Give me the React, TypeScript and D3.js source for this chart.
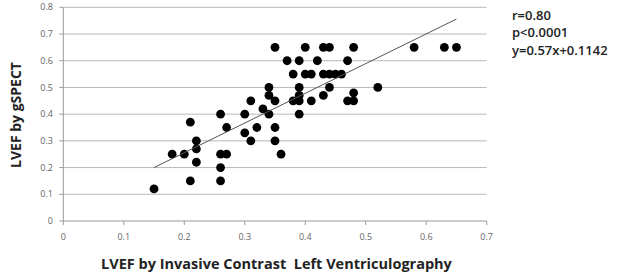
import React from "react";
import * as d3 from "d3";

const xValues = [0.15,0.18,0.20,0.21,0.21,0.22,0.22,0.22,0.26,0.26,0.26,0.26,0.27,0.27,0.30,0.30,0.31,0.31,0.32,0.33,0.34,0.34,0.34,0.35,0.35,0.35,0.36,0.38,0.39,0.39,0.39,0.39,0.41,0.43,0.44,0.35,0.40,0.43,0.44,0.48,0.37,0.39,0.42,0.47,0.38,0.40,0.41,0.43,0.44,0.45,0.46,0.48,0.47,0.48,0.52,0.58,0.63,0.65];
const yValues = [0.12,0.25,0.25,0.37,0.15,0.30,0.27,0.22,0.40,0.25,0.20,0.15,0.25,0.35,0.40,0.33,0.45,0.30,0.35,0.42,0.50,0.47,0.40,0.45,0.35,0.30,0.25,0.45,0.50,0.47,0.45,0.40,0.45,0.47,0.50,0.65,0.65,0.65,0.65,0.65,0.60,0.60,0.60,0.60,0.55,0.55,0.55,0.55,0.55,0.55,0.55,0.48,0.45,0.45,0.50,0.65,0.65,0.65];
const trendX = [0.15, 0.65];
const trendY = [0.20, 0.756];
const xTicks = [0, 0.1, 0.2, 0.3, 0.4, 0.5, 0.6, 0.7];
const yTicks = [0, 0.1, 0.2, 0.3, 0.4, 0.5, 0.6, 0.7, 0.8];
const statsLines = ["r=0.80", "p<0.0001", "y=0.57x+0.1142"];
const xTitle = "LVEF by Invasive Contrast  Left Ventriculography";
const yTitle = "LVEF by gSPECT";

export default function App() {
  const W = 617, H = 276;
  const x = d3.scaleLinear().domain([0, 0.7]).range([63.3, 486.7]);
  const y = d3.scaleLinear().domain([0, 0.8]).range([221, 7.3]);
  const fmt = (v: number) => (v === 0 ? "0" : d3.format(".1f")(v));
  const line = d3.line<number>().x((_, i) => x(trendX[i])).y((_, i) => y(trendY[i]));
  const font = "'Open Sans', 'DejaVu Sans', sans-serif";
  return (
    <svg width={W} height={H} style={{ position: "absolute", left: 0, top: 0, background: "#fff" }} fontFamily={font}>
      <rect width={W} height={H} fill="#fff" />
      {yTicks.filter(t => t > 0).map(t => (
        <line key={"g" + t} x1={x(0)} x2={x(0.7)} y1={y(t)} y2={y(t)} stroke="#b8b8b8" strokeWidth={1} />
      ))}
      <line x1={x(0)} x2={x(0)} y1={y(0)} y2={y(0.8)} stroke="#999" strokeWidth={1} />
      <line x1={x(0)} x2={x(0.7)} y1={y(0)} y2={y(0)} stroke="#999" strokeWidth={1} />
      {yTicks.map(t => (
        <g key={"y" + t}>
          <line x1={x(0) - 4} x2={x(0)} y1={y(t)} y2={y(t)} stroke="#999" />
          <text x={53} y={y(t)} dy="0.35em" textAnchor="end" fontSize={9} fill="#666">{fmt(t)}</text>
        </g>
      ))}
      {xTicks.map(t => (
        <g key={"x" + t}>
          <line x1={x(t)} x2={x(t)} y1={y(0)} y2={y(0) + 4} stroke="#999" />
          <text x={x(t)} y={237} dy="0.35em" textAnchor="middle" fontSize={9} fill="#666">{fmt(t)}</text>
        </g>
      ))}
      {xValues.map((v, i) => (
        <circle key={"p" + i} cx={x(v)} cy={y(yValues[i])} r={4.4} fill="#000" />
      ))}
      <path d={line(trendX) || ""} fill="none" stroke="#555" strokeWidth={1} />
      <text x={276.5} y={264} dy="0.35em" textAnchor="middle" fontSize={14.5} fontWeight="bold" fill="#222" style={{ whiteSpace: "pre" }}>{xTitle}</text>
      <text transform={`translate(16,115) rotate(-90)`} dy="0.35em" textAnchor="middle" fontSize={14} fontWeight="bold" fill="#222">{yTitle}</text>
      {statsLines.map((s, i) => (
        <text key={"s" + i} x={512} y={15 + i * 17.5} dy="0.35em" fontSize={13} fontWeight={600} fill="#222">{s}</text>
      ))}
    </svg>
  );
}
